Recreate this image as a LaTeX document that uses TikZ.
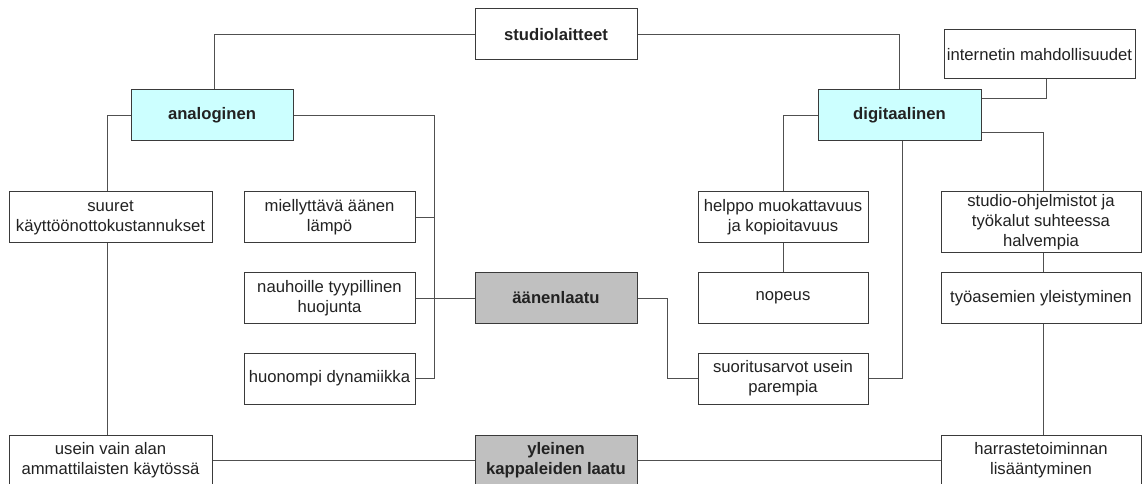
\documentclass[tikz,border=0pt]{standalone}
\usepackage{fontspec}
\setmainfont{Liberation Sans}
\definecolor{edgec}{HTML}{3A3A3A}
\definecolor{wirec}{HTML}{505050}
\definecolor{cyanfill}{HTML}{CCFFFF}
\definecolor{grayfill}{HTML}{C0C0C0}
\definecolor{txt}{HTML}{222222}
\begin{document}
\begin{tikzpicture}[x=0.75pt,y=-0.75pt,
  box/.style={draw=edgec, line width=0.75pt, fill=white, align=center, inner sep=0pt,
    text=txt, font=\fontsize{12.5}{15}\selectfont},
  wh/.style 2 args={minimum width=#1*0.75pt, minimum height=#2*0.75pt},
  keybox/.style={box, fill=cyanfill, font=\fontsize{12.5}{15}\selectfont\bfseries},
  hubbox/.style={box, fill=grayfill, font=\fontsize{12.5}{15}\selectfont\bfseries},
  topbox/.style={box, font=\fontsize{12.5}{15}\selectfont\bfseries},
  wire/.style={draw=wirec, line width=0.75pt}]
\useasboundingbox (0,0) rectangle (1144,484);
\clip (0,0) rectangle (1144,484);

% nodes
\node[topbox, wh={162}{51}] (stud) at (556,34.5) {studiolaitteet};
\node[keybox, wh={162}{51}] (ana) at (212,115.5) {analoginen};
\node[keybox, wh={163}{51}] (dig) at (899.5,115.5) {digitaalinen};
\node[box, wh={191}{49}] (inet) at (1039.5,54.5) {internetin mahdollisuudet};

\node[box, wh={203}{51}] (suur) at (110.5,217.5) {suuret\\käyttöönottokustannukset};
\node[box, wh={171}{51}] (miel) at (329.5,217.5) {miellyttävä äänen\\lämpö};
\node[box, wh={171}{50}] (nauh) at (329.5,298) {nauhoille tyypillinen\\huojunta};
\node[box, wh={171}{51}] (huon) at (329.5,378.5) {huonompi dynamiikka};
\node[hubbox, wh={162}{50}] (aan) at (556,298) {äänenlaatu};

\node[box, wh={170}{51}] (help) at (783,217.5) {helppo muokattavuus\\ja kopioitavuus};
\node[box, wh={170}{50}] (nop) at (783,298) {nopeus};
\node[box, wh={170}{51}] (suor) at (783,378.5) {suoritusarvot usein\\parempia};

\node[box, wh={200}{61}] (stdo) at (1041,222.5) {studio-ohjelmistot ja\\työkalut suhteessa\\halvempia};
\node[box, wh={200}{50}] (tyo) at (1041,298) {työasemien yleistyminen};

\node[box, wh={203}{51}] (usein) at (110.5,460.5) {usein vain alan\\ammattilaisten käytössä};
\node[hubbox, wh={162}{51}] (yle) at (556,460.5) {yleinen\\kappaleiden laatu};
\node[box, wh={200}{51}] (harr) at (1041,460.5) {harrastetoiminnan\\lisääntyminen};

\coordinate (lbus) at (434,378.5);

% connectors
\draw[wire] (stud.west) -| ([xshift=2pt]ana.north);
\draw[wire] (stud.east) -| (dig.north);
\draw[wire] (ana.west) -| ([xshift=-2.5pt]suur.north);
\draw[wire] ([xshift=-2.5pt]suur.south) -- ([xshift=-2.5pt]usein.north);
\draw[wire] (ana.east) -| (lbus) -- (huon.east);
\draw[wire] (miel.east) -- (miel.east -| lbus);
\draw[wire] (nauh.east) -- (aan.west);
\draw[wire] (aan.east) -- ++(30,0) |- (suor.west);
\draw[wire] (suor.east) -| ([xshift=2.6pt]dig.south);
\draw[wire] (dig.west) -| (help.north);
\draw[wire] (help.south) -- (nop.north);
\draw[wire] ([yshift=13pt]dig.east) -| ([xshift=4.9pt]inet.south);
\draw[wire] ([yshift=-13pt]dig.east) -| ([xshift=1.5pt]stdo.north);
\draw[wire] ([xshift=1.5pt]stdo.south) -- ([xshift=1.5pt]tyo.north);
\draw[wire] ([xshift=1.5pt]tyo.south) -- ([xshift=1.5pt]harr.north);
\draw[wire] (usein.east) -- (yle.west);
\draw[wire] (yle.east) -- (harr.west);
\end{tikzpicture}
\end{document}
